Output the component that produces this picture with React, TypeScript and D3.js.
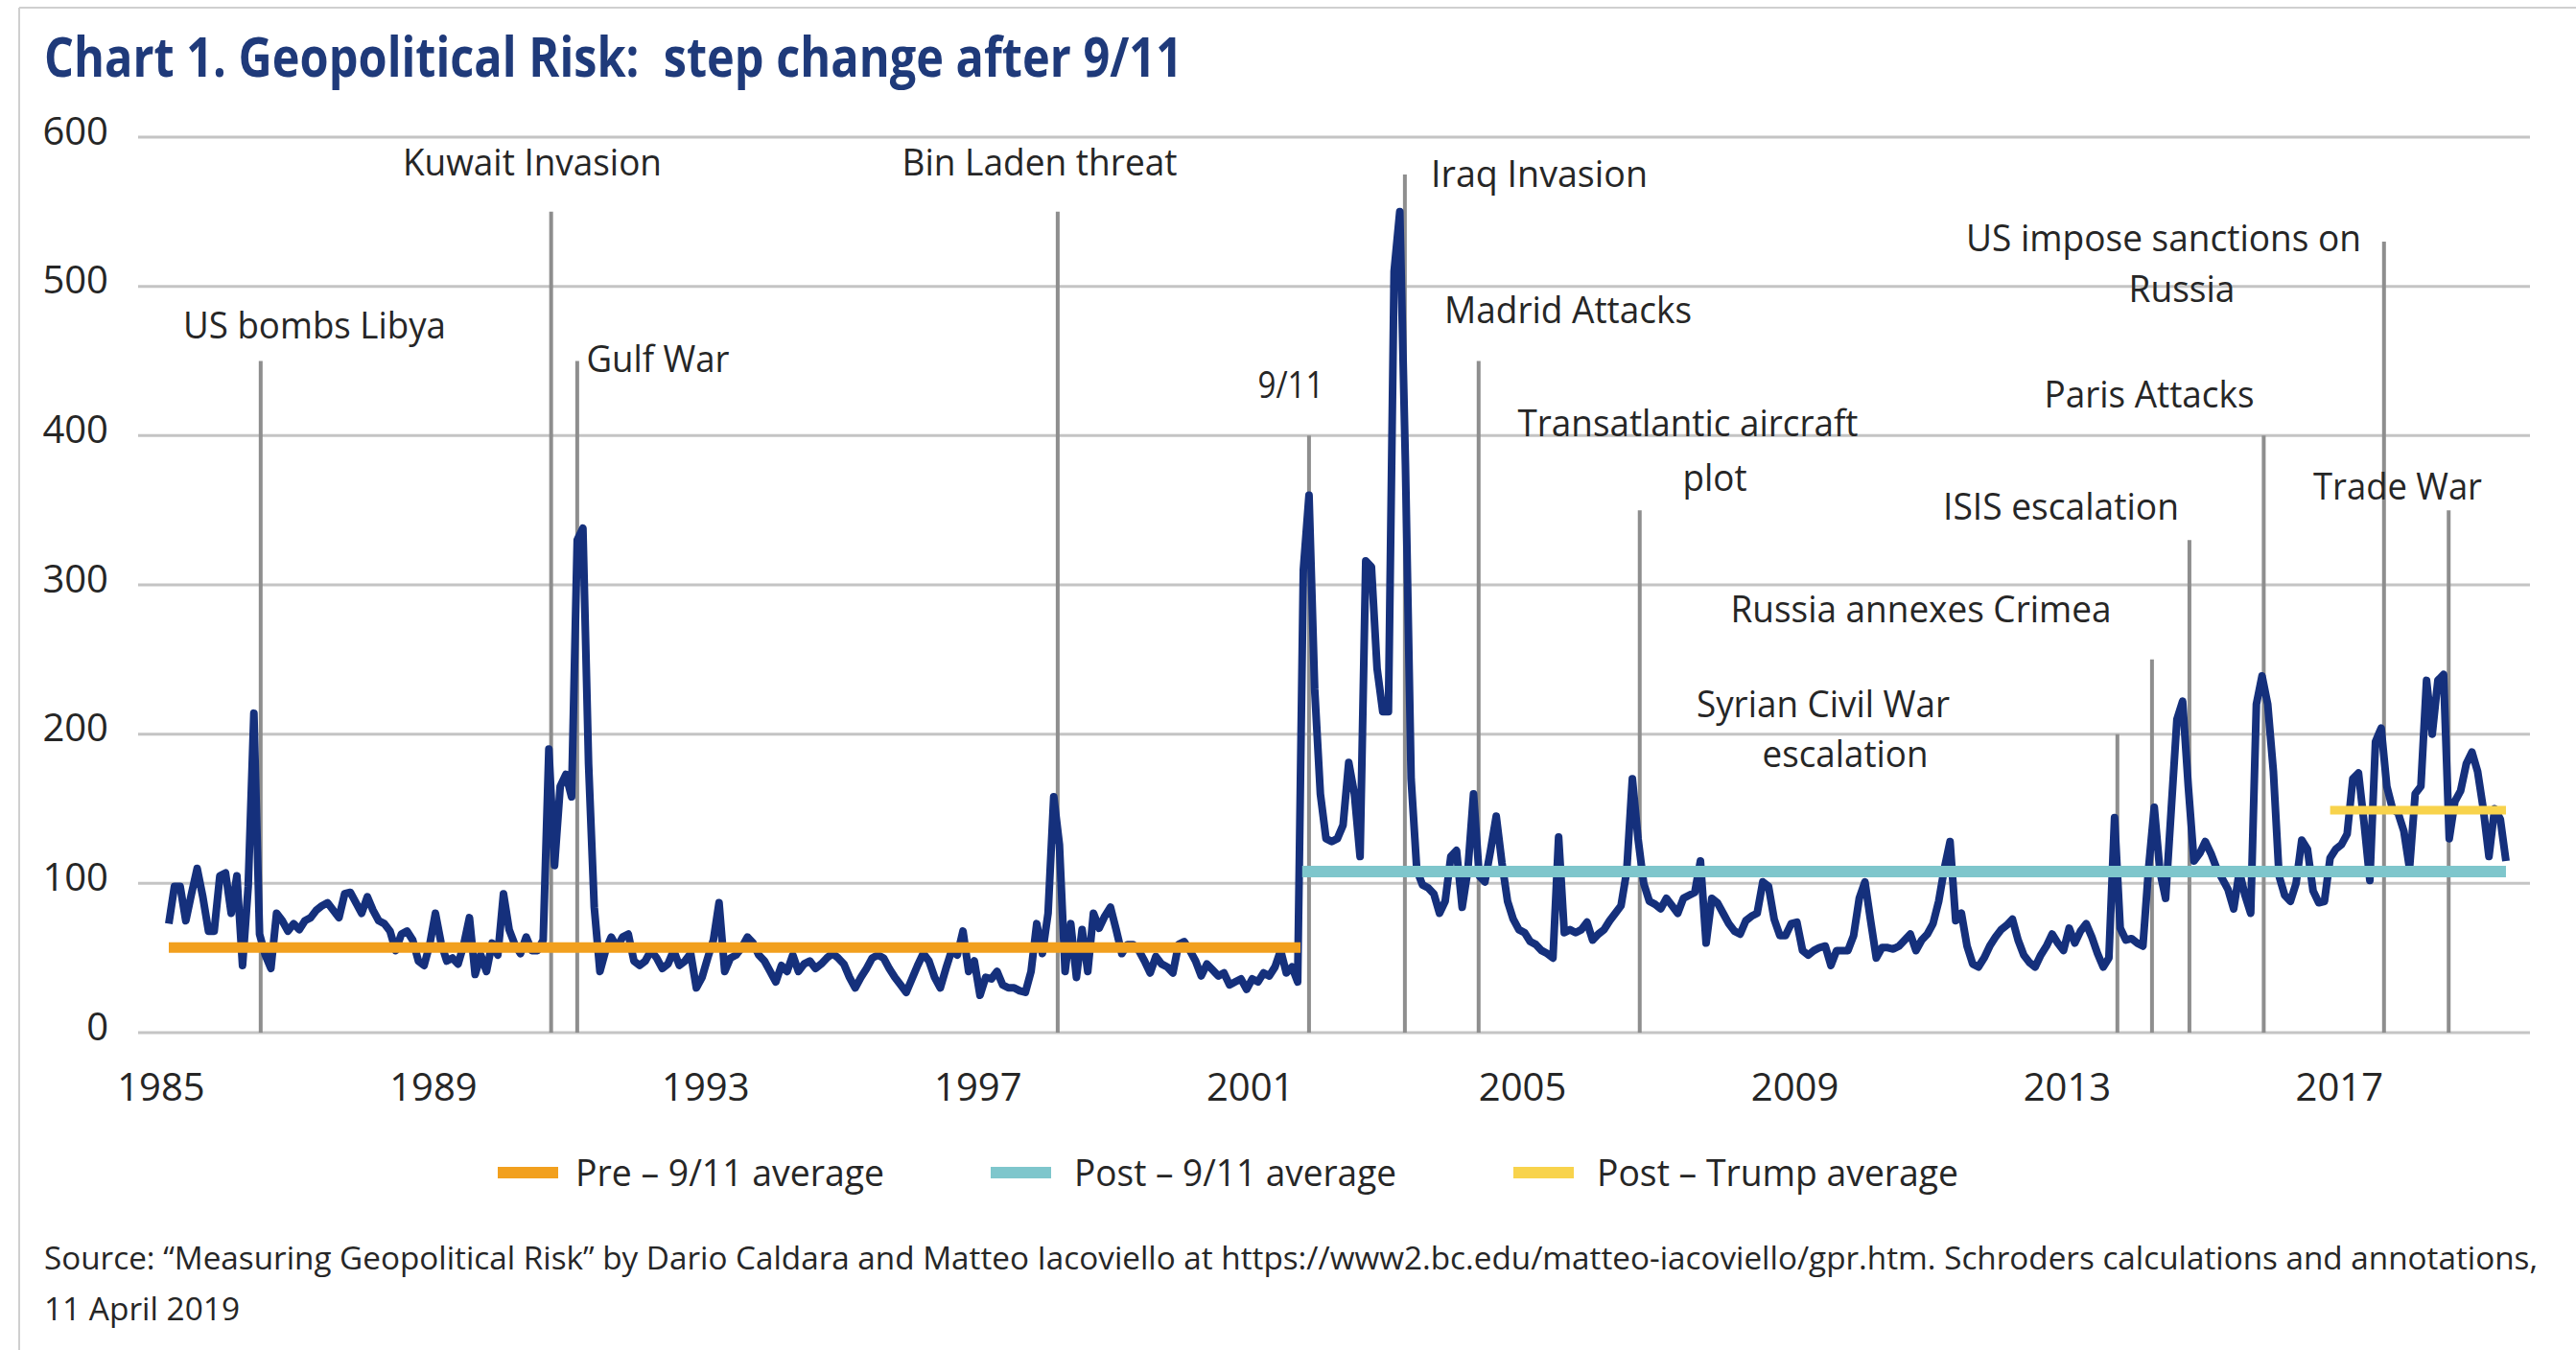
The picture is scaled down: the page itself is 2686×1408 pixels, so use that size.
import React from 'react';
import * as d3 from 'd3';

// ---------- DATA ----------
// Monthly Geopolitical Risk index, Jan 1985 onwards
const gpr1985_1989 = [
  73, 98, 98, 75, 93, 110, 91, 68, 68, 105, 107, 80,
  105, 45, 98, 214, 66, 52, 43, 80, 75, 68, 73, 69,
  75, 77, 82, 85, 87, 82, 77, 93, 94, 87, 80, 91,
  82, 75, 73, 68, 55, 66, 68, 62, 48, 45, 59, 80,
  60, 48, 50, 46, 59, 77, 39, 52, 41, 60, 52, 93,
];
const gpr1990_1994 = [
  69, 59, 53, 64, 55, 55, 62, 190, 112, 165, 173, 158,
  330, 338, 180, 84, 41, 55, 64, 57, 64, 66, 48, 45,
  48, 55, 50, 43, 46, 55, 45, 48, 53, 30, 37, 50,
  62, 87, 41, 50, 52, 57, 64, 60, 52, 48, 41, 34,
  45, 41, 52, 41, 46, 48, 43, 46, 50, 53, 50, 46,
];
const gpr1995_1999 = [
  37, 30, 37, 43, 50, 52, 50, 43, 37, 32, 27, 36,
  45, 53, 48, 37, 30, 43, 55, 52, 68, 41, 48, 25,
  37, 36, 41, 32, 30, 30, 28, 27, 41, 73, 53, 80,
  158, 126, 41, 73, 37, 69, 41, 80, 70, 78, 84, 69,
  53, 59, 59, 55, 48, 40, 51, 46, 44, 40, 59, 61,
];
const gpr2000_2004 = [
  55, 48, 38, 46, 42, 38, 40, 32, 34, 36, 29, 36,
  34, 40, 38, 44, 55, 40, 44, 34, 310, 360, 230, 160,
  130, 128, 130, 139, 181, 160, 118, 316, 312, 244, 215, 215,
  510, 550, 380, 170, 109, 99, 97, 93, 80, 88, 118, 122,
  84, 109, 160, 105, 101, 122, 145, 114, 88, 76, 69, 67,
];
const gpr2005_2009 = [
  61, 59, 55, 53, 50, 131, 67, 69, 67, 69, 74, 62,
  66, 69, 75, 80, 85, 108, 170, 130, 100, 88, 86, 83,
  90, 85, 80, 90, 92, 94, 115, 60, 90, 87, 80, 73,
  68, 66, 75, 78, 80, 101, 98, 76, 65, 65, 73, 74,
  55, 52, 55, 57, 58, 45, 55, 55, 55, 65, 90, 101,
];
const gpr2010_2014 = [
  75, 50, 57, 57, 56, 58, 62, 66, 55, 62, 66, 73,
  88, 110, 128, 75, 80, 58, 46, 44, 50, 58, 64, 69,
  72, 76, 62, 52, 47, 44, 52, 58, 66, 60, 55, 70,
  60, 68, 73, 64, 53, 44, 50, 144, 70, 62, 63, 60,
  58, 110, 151, 108, 90, 150, 210, 222, 165, 115, 120, 128,
];
const gpr2015_2019 = [
  120, 110, 103, 96, 83, 108, 92, 80, 220, 239, 220, 175,
  105, 92, 88, 100, 129, 123, 95, 87, 88, 117, 123, 126,
  133, 170, 174, 140, 102, 195, 204, 165, 150, 147, 135, 110,
  160, 165, 236, 200, 236, 240, 130, 155, 162, 180, 188, 175,
  150, 118, 150, 143, 115,
];
const gprMonthly = [
  ...gpr1985_1989, ...gpr1990_1994, ...gpr1995_1999, ...gpr2000_2004,
  ...gpr2005_2009, ...gpr2010_2014, ...gpr2015_2019,
];

const yTicks = [0, 100, 200, 300, 400, 500, 600];
const xTickYears = [1985, 1989, 1993, 1997, 2001, 2005, 2009, 2013, 2017];

// Annotated events: months since Jan 1985 and height of the marker line
const eventNames = [
  'US bombs Libya', 'Kuwait Invasion', 'Gulf War', 'Bin Laden threat', '9/11',
  'Iraq Invasion', 'Madrid Attacks', 'Transatlantic aircraft\nplot',
  'Syrian Civil War\nescalation', 'Russia annexes Crimea', 'ISIS escalation',
  'Paris Attacks', 'US impose sanctions on\nRussia', 'Trade War',
];
const eventMonths = [16.2, 67.4, 72.0, 156.7, 201.0, 217.9, 230.9, 259.3, 343.5, 349.6, 356.2, 369.3, 390.5, 401.9];
const eventTops = [450, 550, 450, 550, 400, 575, 450, 350, 200, 250, 330, 400, 530, 350];

// Period averages
const avgLabels = ['Pre \u2013 9/11 average', 'Post \u2013 9/11 average', 'Post \u2013 Trump average'];
const avgValues = [57, 108, 149];
const avgStartMonth = [0, 199.8, 381];
const avgEndMonth = [199.5, 412, 412];

const titleText = 'Chart 1. Geopolitical Risk:  step change after 9/11';
const sourceLines = [
  'Source: \u201cMeasuring Geopolitical Risk\u201d by Dario Caldara and Matteo Iacoviello at https://www2.bc.edu/matteo-iacoviello/gpr.htm. Schroders calculations and annotations,',
  '11 April 2019',
];

// ---------- LAYOUT / STYLE ----------
const W = 2686;
const H = 1408;
const PLOT = { left: 144, right: 2638, top: 143, bottom: 1077 };
const SERIES_X0 = 176;
const PX_PER_MONTH = 5.915;
const FONT = "'Open Sans', 'Noto Sans', sans-serif";
const NAVY = '#15307c';
const TEXT = '#262626';
const avgColors = ['#F2A01E', '#7EC6CC', '#F8D34C'];
const avgWidths = [11, 12, 9];

const labelLayout = [
  [{ cx: 328, cy: 341, w: 274 }],
  [{ cx: 555, cy: 171, w: 270 }],
  [{ cx: 686, cy: 376, w: 149 }],
  [{ cx: 1084, cy: 171, w: 287 }],
  [{ cx: 1346, cy: 403, w: 69 }],
  [{ cx: 1605, cy: 183, w: 226 }],
  [{ cx: 1635, cy: 325, w: 258 }],
  [{ cx: 1760, cy: 443, w: 355 }, { cx: 1788, cy: 500, w: 67 }],
  [{ cx: 1901, cy: 736, w: 264 }, { cx: 1924, cy: 788, w: 173 }],
  [{ cx: 2003, cy: 637, w: 397 }],
  [{ cx: 2149, cy: 530, w: 246 }],
  [{ cx: 2241, cy: 413, w: 219 }],
  [{ cx: 2256, cy: 250, w: 412 }, { cx: 2275, cy: 303, w: 111 }],
  [{ cx: 2500, cy: 509, w: 176 }],
];
const legendSwatchX = [519, 1033, 1578];
const legendTextX = [600, 1120, 1665];
const legendTextW = [322, 336, 377];

export default function App() {
  const n = gprMonthly.length;
  const x = d3.scaleLinear().domain([0, n - 1]).range([SERIES_X0, SERIES_X0 + (n - 1) * PX_PER_MONTH]);
  const y = d3.scaleLinear().domain([0, 600]).range([PLOT.bottom, PLOT.top]);

  const line = d3.line<number>()
    .x((_, i) => x(i))
    .y((d) => y(d))
    .curve(d3.curveLinear);

  const tickMonth = (yr: number) => (yr - 1985) * 12;

  return (
    <div style={{ position: 'absolute', left: 0, top: 0, width: W, height: H, background: '#fff' }}>
      <svg width={W} height={H} style={{ display: 'block' }}>
        <rect x={0} y={0} width={W} height={H} fill="#fff" />
        {/* frame */}
        <line x1={20} x2={20} y1={8} y2={H} stroke="#cfcfcf" strokeWidth={2} />
        <line x1={20} x2={W} y1={8} y2={8} stroke="#cfcfcf" strokeWidth={2} />

        {/* title */}
        <text x={46} y={80} fontFamily={FONT} fontWeight={700} fontSize={58} fill="#1f3a7a"
          textLength={1187} lengthAdjust="spacingAndGlyphs" style={{ whiteSpace: 'pre' }}>{titleText}</text>

        {/* gridlines */}
        {yTicks.map((t) => (
          <line key={'g' + t} x1={PLOT.left} x2={PLOT.right} y1={y(t)} y2={y(t)} stroke="#c4c4c4" strokeWidth={3} />
        ))}
        {/* y tick labels */}
        {yTicks.map((t) => (
          <text key={'yl' + t} x={113} y={y(t) - 3} dominantBaseline="middle" textAnchor="end"
            fontFamily={FONT} fontSize={40} fill={TEXT}>{t}</text>
        ))}
        {/* x tick labels */}
        {xTickYears.map((yr) => (
          <text key={'xl' + yr} x={x(tickMonth(yr)) - 8} y={1148} textAnchor="middle"
            fontFamily={FONT} fontSize={40} fill={TEXT}>{yr}</text>
        ))}

        {/* event marker lines */}
        {eventMonths.map((m, i) => (
          <line key={'ev' + i} x1={x(m)} x2={x(m)} y1={y(0)} y2={y(eventTops[i])} stroke="#8e8e8e" strokeWidth={4} />
        ))}

        {/* series */}
        <path d={line(gprMonthly) || ''} fill="none" stroke={NAVY} strokeWidth={8} strokeLinejoin="round" />

        {/* averages */}
        {avgValues.map((v, i) => (
          <line key={'avg' + i} x1={x(avgStartMonth[i])} x2={x(avgEndMonth[i])} y1={y(v)} y2={y(v)}
            stroke={avgColors[i]} strokeWidth={avgWidths[i]} />
        ))}

        {/* event labels */}
        {eventNames.map((name, i) => name.split('\n').map((ln, j) => {
          const L = labelLayout[i][j];
          return (
            <text key={'lab' + i + '_' + j} x={L.cx} y={L.cy + 12} textAnchor="middle"
              fontFamily={FONT} fontSize={39} fill={TEXT}
              textLength={L.w} lengthAdjust="spacingAndGlyphs">{ln}</text>
          );
        }))}

        {/* legend */}
        {avgLabels.map((lab, i) => (
          <g key={'leg' + i}>
            <line x1={legendSwatchX[i]} x2={legendSwatchX[i] + 63} y1={1223} y2={1223} stroke={avgColors[i]} strokeWidth={12} />
            <text x={legendTextX[i]} y={1237} fontFamily={FONT} fontSize={39} fill={TEXT}
              textLength={legendTextW[i]} lengthAdjust="spacingAndGlyphs">{lab}</text>
          </g>
        ))}

        {/* source */}
        <text x={46} y={1324} fontFamily={FONT} fontSize={32} fill={TEXT}
          textLength={2600} lengthAdjust="spacingAndGlyphs">{sourceLines[0]}</text>
        <text x={46} y={1377} fontFamily={FONT} fontSize={32} fill={TEXT}
          textLength={204} lengthAdjust="spacingAndGlyphs">{sourceLines[1]}</text>
      </svg>
    </div>
  );
}
